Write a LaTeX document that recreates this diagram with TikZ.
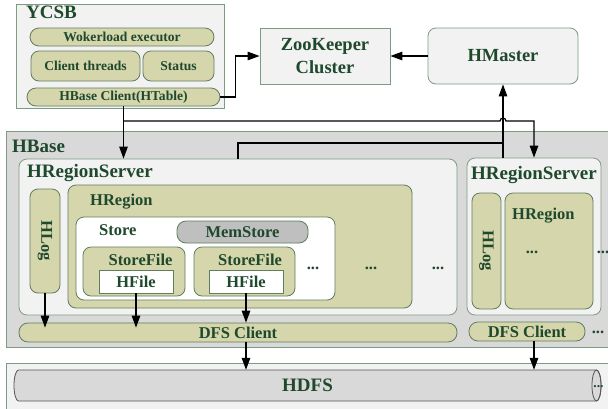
\documentclass[tikz,border=0pt]{standalone}
\usepackage{fontspec}
\setmainfont{Liberation Serif}
\usetikzlibrary{arrows.meta}

\definecolor{txt}{RGB}{31,73,45}
\definecolor{olive}{RGB}{214,214,172}
\definecolor{olivedraw}{RGB}{95,125,95}
\definecolor{panel}{RGB}{242,242,242}
\definecolor{panelgray}{RGB}{217,217,217}
\definecolor{paneldraw}{RGB}{125,155,130}
\definecolor{memfill}{RGB}{191,191,191}
\definecolor{cyldraw}{RGB}{85,85,85}

\tikzset{
  wh/.style 2 args={minimum width=#1pt, minimum height=#2pt},
  bigfont/.style={font=\fontsize{19}{21}\selectfont\bfseries},
  midfont/.style={font=\fontsize{16.5}{18}\selectfont\bfseries},
  smallfont/.style={font=\fontsize{13.6}{15}\selectfont\bfseries},
  olivebox/.style={draw=olivedraw, fill=olive, line width=0.8pt,
    rounded corners=8pt, inner sep=0pt, text=txt},
  pill/.style={olivebox, rounded corners=9pt},
  panelbox/.style={draw=paneldraw, fill=panel, line width=0.8pt,
    inner sep=0pt, text=txt},
  title/.style={text=txt, inner sep=0pt, anchor=base west, bigfont},
  subtitle/.style={text=txt, inner sep=0pt, anchor=base west, midfont},
  dots/.style={text=txt, inner sep=0pt, anchor=base, midfont},
  conn/.style={line width=1.2pt, black},
  arr/.style={conn, -{Triangle[length=12pt,width=8.5pt]}},
  capr/.style={x radius=4.5pt, y radius=15.5pt},
}

\begin{document}
\begin{tikzpicture}[x=1pt, y=-1pt]
\clip (0,0) rectangle (608,408);

% ---------- YCSB client side ----------
\node[panelbox, wh={208}{104}] (ycsb) at (120,56) {};
\node[title] (ycsbl) at (26,18.3) {YCSB};
\node[pill, smallfont, wh={184}{18}] (wle) at (122,37) {Wokerload executor};
\node[olivebox, smallfont, wh={109}{30}] (ct) at (85.5,66) {Client threads};
\node[olivebox, smallfont, wh={71}{30}] (st) at (178.5,66) {Status};
\node[pill, smallfont, wh={193}{18}] (hbc) at (123.5,97) {HBase Client(HTable)};

% ---------- coordination ----------
\node[panelbox, wh={130}{56}, font=\fontsize{18.5}{23}\selectfont\bfseries, align=center]
  (zk) at (325,56) {ZooKeeper\\Cluster};
\node[panelbox, rounded corners=8pt, wh={150}{56}, font=\fontsize{18.5}{21}\selectfont\bfseries]
  (hmaster) at (503,56) {HMaster};

% ---------- HBase ----------
\node[draw=paneldraw, fill=panelgray, line width=0.8pt, wh={606}{216}] (hbase) at (309,239) {};
\node[title] (hbasel) at (12,152) {HBase};

% first region server
\node[panelbox, rounded corners=8pt, wh={438}{156}] (hrs1) at (238,237) {};
\node[title] (hrs1l) at (27,177) {HRegionServer};
\node[olivebox, midfont, rotate=-90, wh={104}{30}] (hlog1) at (45,241) {HLog};
\node[olivebox, wh={344}{123}] (hreg1) at (240,246.5) {};
\node[subtitle] (hreg1l) at (90,205) {HRegion};
\node[draw=olivedraw, fill=white, line width=0.8pt, rounded corners=8pt, wh={259}{83}] (store) at (205.5,258.5) {};
\node[subtitle] (storel) at (99,235) {Store};
\node[draw=olivedraw, fill=memfill, line width=0.8pt, rounded corners=9pt, text=txt, midfont, wh={131}{22}]
  (mem) at (242.5,232) {MemStore};
\node[olivebox, wh={102}{49}] (sf1) at (134,271.5) {};
\node[text=txt, inner sep=0pt, anchor=base, midfont] (sf1l) at (140.5,265) {StoreFile};
\node[draw=olivedraw, fill=white, line width=0.8pt, text=txt, midfont, wh={74}{23}] (hf1) at (136,281.5) {HFile};
\node[olivebox, wh={101}{49}] (sf2) at (244.5,271.5) {};
\node[text=txt, inner sep=0pt, anchor=base, midfont] (sf2l) at (250,265) {StoreFile};
\node[draw=olivedraw, fill=white, line width=0.8pt, text=txt, midfont, wh={74}{23}] (hf2) at (246,281.5) {HFile};
\node[dots] (d1) at (313,269) {...};
\node[dots] (d2) at (371,269) {...};
\node[dots] (d3) at (438,269) {...};

% second region server
\node[panelbox, rounded corners=8pt, wh={134}{157}] (hrs2) at (534,236.5) {};
\node[title] (hrs2l) at (471,179) {HRegionServer};
\node[olivebox, midfont, rotate=-90, wh={116}{29}] (hlog2) at (486.5,251) {HLog};
\node[olivebox, wh={88}{116}] (hreg2) at (549,251) {};
\node[subtitle] (hreg2l) at (512,219) {HRegion};
\node[dots] (d4) at (532,253.5) {...};
\node[dots] (d5) at (603,253.5) {...};

% DFS clients
\node[pill, midfont, wh={438}{19}] (dfs1) at (238,332.5) {DFS Client};
\node[pill, midfont, wh={116}{19}] (dfs2) at (527,331.5) {DFS Client};
\node[dots] (d6) at (598,333.5) {...};

% ---------- HDFS ----------
\node[draw=paneldraw, fill=panel, line width=0.8pt, wh={606}{49}] (hdfsp) at (309,387.5) {};
% horizontal cylinder: open left end, full cap ellipse on the right
\path[draw=cyldraw, fill=panelgray, line width=0.8pt]
  (596.5,370) -- (18.5,370) arc[start angle=90, end angle=270, capr]
  -- (596.5,401) arc[start angle=-90, end angle=90, capr] -- cycle;
\draw[cyldraw, line width=0.8pt] (596.5,385.5) ellipse[capr];
\node[text=txt, bigfont, inner sep=0pt, wh={587}{31}] (hdfs) at (307.5,385.5) {HDFS};
\node[text=txt, inner sep=0pt, anchor=base, smallfont] (d7) at (598.5,387) {...};

% ---------- connectors ----------
\coordinate (busA) at (0,121);
\coordinate (busB) at (0,143);
\coordinate (cross) at (hmaster.south |- busA);
\coordinate (hopL) at ([xshift=-3pt]cross);

\draw[arr] (hbc.east) -- ++(15,0) |- (zk.west);
\draw[arr] (hmaster.west) -- (zk.east);
\draw[arr] (hbc.south) -- (hrs1.north -| hbc.south);
\draw[arr] (hbc.south |- busA) -- (hopL) arc[start angle=180, end angle=0, radius=3pt]
  -- (hrs2.north |- busA) -- (hrs2.north);
\draw[conn] (hrs1.north) -- (hrs1.north |- busB) -- (hmaster.south |- busB);
\draw[arr] (hrs2.north -| hmaster.south) -- (hmaster.south);

\draw[arr] (hlog1.east) -- ([yshift=-5pt]dfs1.north -| hlog1.east);
\draw[arr] (hf1.south) -- ([yshift=-5pt]dfs1.north -| hf1.south);
\draw[arr] (hf2.south) -- (dfs1.north -| hf2.south);
\draw[arr] (dfs1.south -| hf2.south) -- (hdfs.north -| hf2.south);
\draw[arr] (dfs2.south -| hrs2.north) -- (hdfs.north -| hrs2.north);
\end{tikzpicture}
\end{document}
